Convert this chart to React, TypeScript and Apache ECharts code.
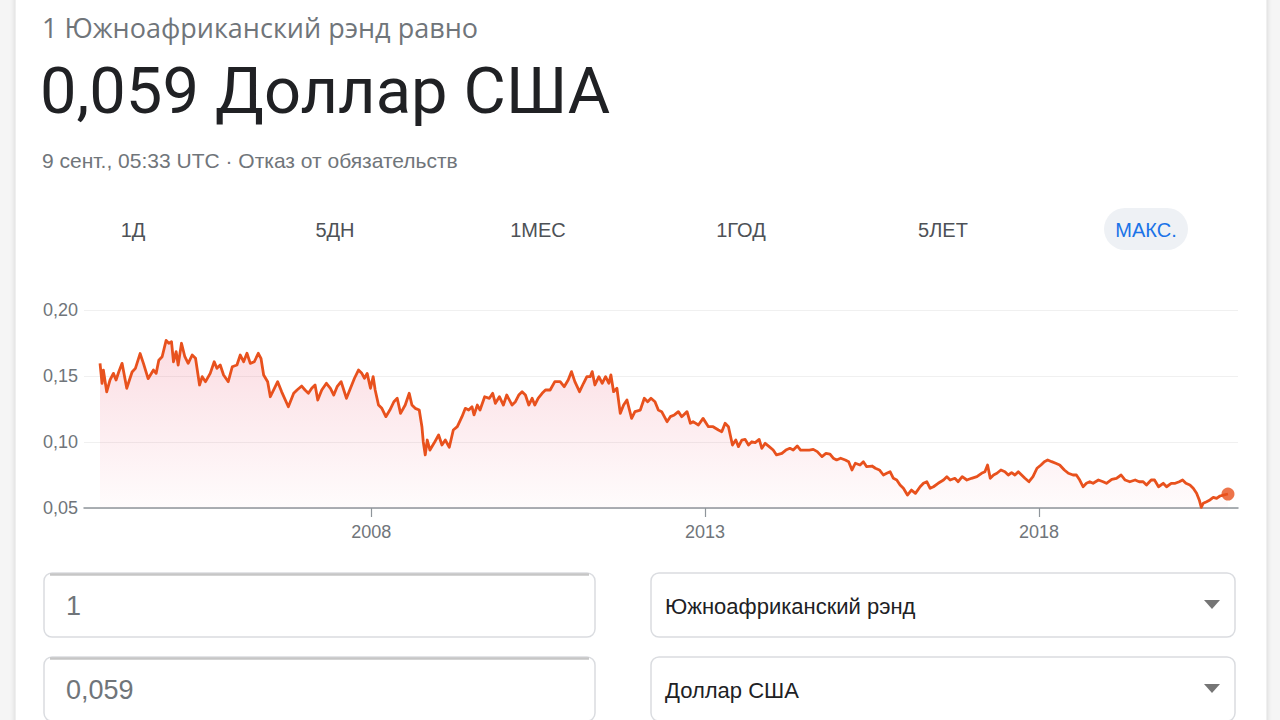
import React, { useEffect, useRef } from "react";
import * as echarts from "echarts";

// ZAR -> USD rate, [decimal year, rate]
const zarUsd: [number, number][] = [
  [2003.94, 0.1596], [2003.97, 0.1445], [2003.99, 0.1545], [2004.04, 0.138], [2004.09, 0.147],
  [2004.14, 0.152], [2004.18, 0.147], [2004.22, 0.153], [2004.27, 0.1596], [2004.34, 0.1407],
  [2004.42, 0.153], [2004.47, 0.1558], [2004.54, 0.167], [2004.59, 0.1596], [2004.66, 0.148],
  [2004.74, 0.1545], [2004.78, 0.152], [2004.82, 0.162], [2004.87, 0.1646], [2004.93, 0.177],
  [2004.97, 0.1748], [2005.01, 0.176], [2005.04, 0.1608], [2005.08, 0.1684], [2005.11, 0.1583],
  [2005.16, 0.1748], [2005.21, 0.1646], [2005.26, 0.1596], [2005.32, 0.1659], [2005.37, 0.1634],
  [2005.43, 0.1432], [2005.47, 0.1495], [2005.52, 0.1457], [2005.59, 0.152], [2005.65, 0.1608],
  [2005.69, 0.1558], [2005.74, 0.1583], [2005.79, 0.1508], [2005.86, 0.1457], [2005.92, 0.157],
  [2005.99, 0.1583], [2006.04, 0.1659], [2006.09, 0.1608], [2006.14, 0.1672], [2006.19, 0.1596],
  [2006.25, 0.1608], [2006.31, 0.1672], [2006.35, 0.1634], [2006.39, 0.1508], [2006.45, 0.1457],
  [2006.49, 0.1343], [2006.54, 0.1394], [2006.60, 0.1457], [2006.66, 0.138], [2006.76, 0.1267],
  [2006.84, 0.1369], [2006.89, 0.1394], [2006.96, 0.1424], [2007.01, 0.1394], [2007.06, 0.1369],
  [2007.11, 0.1407], [2007.16, 0.1432], [2007.20, 0.1318], [2007.26, 0.1394], [2007.33, 0.1445],
  [2007.39, 0.1407], [2007.44, 0.1356], [2007.49, 0.1419], [2007.55, 0.1457], [2007.59, 0.1394],
  [2007.63, 0.1331], [2007.69, 0.1407], [2007.75, 0.1483], [2007.81, 0.1545], [2007.86, 0.152],
  [2007.90, 0.1483], [2007.94, 0.152], [2007.99, 0.1407], [2008.03, 0.1495], [2008.06, 0.1394],
  [2008.11, 0.128], [2008.16, 0.1255], [2008.22, 0.1192], [2008.28, 0.1242], [2008.34, 0.1305],
  [2008.39, 0.1331], [2008.44, 0.1217], [2008.51, 0.128], [2008.57, 0.1369], [2008.61, 0.128],
  [2008.66, 0.1255], [2008.72, 0.1242], [2008.76, 0.1116], [2008.78, 0.1002], [2008.81, 0.0902],
  [2008.84, 0.1015], [2008.88, 0.0939], [2008.94, 0.099], [2009.01, 0.1053], [2009.06, 0.0977],
  [2009.11, 0.1015], [2009.17, 0.096], [2009.23, 0.1091], [2009.29, 0.1116], [2009.36, 0.1192],
  [2009.41, 0.1255], [2009.46, 0.1242], [2009.51, 0.1267], [2009.54, 0.1205], [2009.59, 0.128],
  [2009.63, 0.1242], [2009.70, 0.1343], [2009.77, 0.1331], [2009.82, 0.1369], [2009.86, 0.1293],
  [2009.92, 0.1343], [2009.98, 0.128], [2010.03, 0.1356], [2010.11, 0.128], [2010.16, 0.1305],
  [2010.21, 0.1356], [2010.26, 0.1381], [2010.31, 0.1356], [2010.36, 0.128], [2010.41, 0.1331],
  [2010.45, 0.128], [2010.50, 0.1331], [2010.56, 0.1369], [2010.61, 0.1394], [2010.68, 0.1394],
  [2010.75, 0.1457], [2010.83, 0.1457], [2010.89, 0.1419], [2010.95, 0.147], [2011.00, 0.1533],
  [2011.05, 0.1457], [2011.12, 0.1381], [2011.18, 0.1445], [2011.23, 0.1495], [2011.28, 0.1495],
  [2011.31, 0.1533], [2011.35, 0.1432], [2011.41, 0.1495], [2011.46, 0.1445], [2011.51, 0.1495],
  [2011.56, 0.1445], [2011.59, 0.1508], [2011.63, 0.1381], [2011.68, 0.1407], [2011.73, 0.1217],
  [2011.78, 0.128], [2011.83, 0.1318], [2011.90, 0.1179], [2011.95, 0.123], [2012.03, 0.1242],
  [2012.09, 0.1331], [2012.14, 0.1305], [2012.19, 0.1331], [2012.25, 0.1305], [2012.30, 0.1242],
  [2012.35, 0.123], [2012.43, 0.1154], [2012.48, 0.1192], [2012.54, 0.1205], [2012.60, 0.123],
  [2012.65, 0.1192], [2012.73, 0.123], [2012.78, 0.1142], [2012.82, 0.1154], [2012.90, 0.1129],
  [2012.97, 0.1179], [2013.05, 0.1116], [2013.12, 0.1116], [2013.20, 0.1091], [2013.25, 0.1078],
  [2013.30, 0.1142], [2013.35, 0.1116], [2013.41, 0.0977], [2013.46, 0.1015], [2013.50, 0.0965],
  [2013.55, 0.1015], [2013.60, 0.102], [2013.65, 0.0977], [2013.70, 0.1002], [2013.75, 0.0995],
  [2013.81, 0.102], [2013.85, 0.0952], [2013.90, 0.099], [2013.96, 0.0965], [2014.02, 0.0939],
  [2014.07, 0.0902], [2014.15, 0.0914], [2014.21, 0.0939], [2014.27, 0.0952], [2014.32, 0.0939],
  [2014.38, 0.097], [2014.43, 0.0939], [2014.50, 0.0939], [2014.56, 0.0939], [2014.62, 0.0944],
  [2014.68, 0.0927], [2014.75, 0.0889], [2014.81, 0.0914], [2014.87, 0.0909], [2014.92, 0.0877],
  [2014.97, 0.0864], [2015.03, 0.0877], [2015.10, 0.0864], [2015.15, 0.0851], [2015.20, 0.0788],
  [2015.25, 0.0839], [2015.32, 0.0826], [2015.37, 0.0851], [2015.42, 0.0813], [2015.50, 0.0818],
  [2015.55, 0.0801], [2015.61, 0.0788], [2015.67, 0.075], [2015.72, 0.0763], [2015.77, 0.0775],
  [2015.82, 0.0725], [2015.87, 0.0712], [2015.92, 0.0674], [2015.97, 0.0649], [2016.03, 0.0598],
  [2016.09, 0.0636], [2016.15, 0.0611], [2016.22, 0.0661], [2016.27, 0.0687], [2016.32, 0.0699],
  [2016.37, 0.0649], [2016.42, 0.0661], [2016.49, 0.0687], [2016.57, 0.0712], [2016.62, 0.0737],
  [2016.67, 0.0712], [2016.74, 0.0725], [2016.79, 0.0699], [2016.85, 0.0737], [2016.92, 0.0712],
  [2016.99, 0.0725], [2017.07, 0.0737], [2017.14, 0.0763], [2017.19, 0.0775], [2017.23, 0.0826],
  [2017.27, 0.0725], [2017.32, 0.075], [2017.37, 0.0763], [2017.43, 0.0788], [2017.49, 0.0775],
  [2017.54, 0.075], [2017.59, 0.0768], [2017.64, 0.075], [2017.69, 0.0775], [2017.74, 0.075],
  [2017.79, 0.0725], [2017.85, 0.0699], [2017.91, 0.0737], [2017.97, 0.0801], [2018.03, 0.0826],
  [2018.08, 0.0851], [2018.13, 0.0864], [2018.19, 0.0851], [2018.25, 0.0839], [2018.31, 0.0826],
  [2018.38, 0.0788], [2018.44, 0.0763], [2018.51, 0.075], [2018.56, 0.075], [2018.61, 0.0712],
  [2018.66, 0.0661], [2018.71, 0.0687], [2018.76, 0.0699], [2018.81, 0.0687], [2018.89, 0.0712],
  [2018.96, 0.0699], [2019.01, 0.0687], [2019.09, 0.0717], [2019.16, 0.0725], [2019.23, 0.075],
  [2019.29, 0.0712], [2019.36, 0.0699], [2019.44, 0.0712], [2019.50, 0.0699], [2019.56, 0.0699],
  [2019.61, 0.0674], [2019.68, 0.0712], [2019.73, 0.0712], [2019.79, 0.0661], [2019.86, 0.0687],
  [2019.91, 0.0661], [2019.98, 0.0687], [2020.04, 0.0687], [2020.10, 0.0699], [2020.15, 0.0712],
  [2020.20, 0.0687], [2020.26, 0.0674], [2020.31, 0.0649], [2020.36, 0.0611], [2020.40, 0.0561],
  [2020.43, 0.0505], [2020.46, 0.0536], [2020.51, 0.0548], [2020.56, 0.0561], [2020.61, 0.0581],
  [2020.66, 0.0573], [2020.71, 0.0591], [2020.76, 0.0598], [2020.83, 0.0606],
];

const xTickYears = [2008, 2013, 2018];
const yTicks = [0.05, 0.1, 0.15, 0.2];
const rangeTabs = ["1Д", "5ДН", "1МЕС", "1ГОД", "5ЛЕТ", "МАКС."];
const headerLine = "1 Южноафриканский рэнд равно";
const headline = "0,059 Доллар США";
const timestamp = "9 сент., 05:33 UTC · Отказ от обязательств";
const amountFrom = "1";
const amountTo = "0,059";
const currencyFrom = "Южноафриканский рэнд";
const currencyTo = "Доллар США";

const LINE = "#e8511d";
const SANS = "'Liberation Sans', Arial, sans-serif";

export default function App() {
  const ref = useRef<HTMLDivElement>(null);
  useEffect(() => {
    if (!ref.current) return;
    const chart = echarts.init(ref.current, null, { renderer: "svg" });
    const last = zarUsd[zarUsd.length - 1];
    const tabX = [133, 335, 538, 741, 943, 1146];

    const graphic: any[] = [
      { type: "rect", z: -10, shape: { x: 0, y: 0, width: 1280, height: 720 }, style: { fill: "#f5f5f5" } },
      {
        type: "rect", z: -9,
        shape: { x: 15, y: -20, width: 1252, height: 760 },
        style: { fill: "#ffffff", stroke: "#e0e0e0", lineWidth: 1, shadowBlur: 4, shadowColor: "rgba(0,0,0,0.12)" },
      },
      { type: "text", x: 42, y: 27, style: { text: headerLine, fill: "#70757a", font: `27px 'Open Sans', ${SANS}`, verticalAlign: "middle" } },
      { type: "text", x: 40, y: 91, style: { text: headline, fill: "#202124", font: `400 65px Roboto, ${SANS}`, verticalAlign: "middle" } },
      { type: "text", x: 42, y: 160, style: { text: timestamp, fill: "#70757a", font: `21px ${SANS}`, verticalAlign: "middle" } },
      { type: "rect", shape: { x: 1104, y: 208, width: 84, height: 42, r: 21 }, style: { fill: "#eef1f5" } },
      ...rangeTabs.map((t, i) => ({
        type: "text", x: tabX[i], y: 230,
        style: {
          text: t, fill: i === rangeTabs.length - 1 ? "#1a73e8" : "#4d5156",
          font: `20px ${SANS}`, align: "center", verticalAlign: "middle",
        },
      })),
      // input boxes
      ...[573, 657].map((y) => ({
        type: "rect", shape: { x: 44, y, width: 551, height: 64, r: 8 },
        style: { fill: "#fff", stroke: "#dadce0", lineWidth: 1.5 },
      })),
      ...[573, 657].map((y) => ({
        type: "line", shape: { x1: 50, y1: y + 1.5, x2: 589, y2: y + 1.5 },
        style: { stroke: "#c6c6c6", lineWidth: 2.5 },
      })),
      ...[573, 657].map((y) => ({
        type: "rect", shape: { x: 651, y, width: 584, height: 64, r: 8 },
        style: { fill: "#fff", stroke: "#dadce0", lineWidth: 1.5 },
      })),
      { type: "text", x: 66, y: 606, style: { text: amountFrom, fill: "#70757a", font: `27px ${SANS}`, verticalAlign: "middle" } },
      { type: "text", x: 66, y: 690, style: { text: amountTo, fill: "#70757a", font: `27px ${SANS}`, verticalAlign: "middle" } },
      { type: "text", x: 665, y: 606, style: { text: currencyFrom, fill: "#202124", font: `22px ${SANS}`, verticalAlign: "middle" } },
      { type: "text", x: 665, y: 690, style: { text: currencyTo, fill: "#202124", font: `22px ${SANS}`, verticalAlign: "middle" } },
      ...[604, 688].map((y) => ({
        type: "polygon", shape: { points: [[1204, y - 4], [1220, y - 4], [1212, y + 5]] },
        style: { fill: "#757575" },
      })),
    ];

    chart.setOption({
      animation: false,
      grid: { left: 84, right: 42, top: 310, bottom: 212, containLabel: false },
      xAxis: {
        type: "value",
        min: 2003.7,
        max: 2020.98,
        axisLine: { show: true, lineStyle: { color: "#8f959b", width: 1.5 } },
        axisTick: { show: true, customValues: xTickYears, length: 9, lineStyle: { color: "#8f959b", width: 1.2 } },
        axisLabel: {
          customValues: xTickYears,
          formatter: (v: number) => String(Math.round(v)),
          color: "#70757a", fontSize: 18, fontFamily: SANS, margin: 15,
        },
        splitLine: { show: false },
      },
      yAxis: {
        type: "value",
        min: yTicks[0],
        max: yTicks[yTicks.length - 1],
        interval: 0.05,
        axisLine: { show: false },
        axisTick: { show: false },
        axisLabel: {
          formatter: (v: number) => v.toFixed(2).replace(".", ","),
          color: "#70757a", fontSize: 18, fontFamily: SANS, margin: 6,
        },
        splitLine: { lineStyle: { color: "#f0f0f0", width: 1 } },
      },
      series: [
        {
          type: "line",
          data: zarUsd,
          showSymbol: false,
          symbol: "none",
          lineStyle: { color: LINE, width: 2.8, join: "round" },
          areaStyle: {
            origin: "start",
            color: new echarts.graphic.LinearGradient(0, 0, 0, 1, [
              { offset: 0, color: "rgba(236, 92, 120, 0.30)" },
              { offset: 1, color: "rgba(236, 92, 120, 0.03)" },
            ]),
          },
          z: 3,
        },
        {
          type: "scatter",
          data: [last],
          symbolSize: 13,
          itemStyle: { color: LINE },
          z: 4,
        },
      ],
      graphic,
    });
    return () => chart.dispose();
  }, []);

  return (
    <div
      ref={ref}
      style={{ position: "fixed", left: 0, top: 0, width: 1280, height: 720, background: "#fff" }}
    />
  );
}
